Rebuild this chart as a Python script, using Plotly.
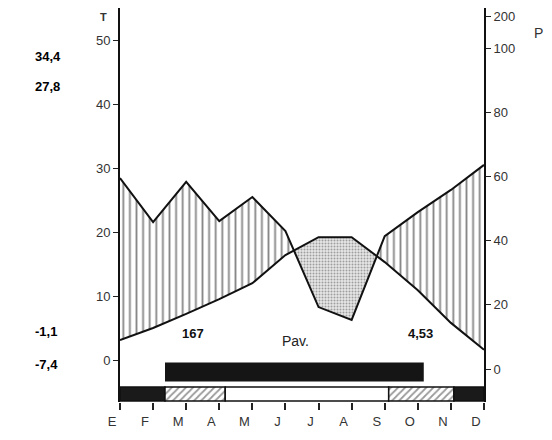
import numpy as np
import plotly.graph_objects as go

# ---------------- data ----------------
months = ["E", "F", "M", "A", "M", "J", "J", "A", "S", "O", "N", "D"]
temperature = [3.1, 5.0, 7.2, 9.5, 12.0, 16.4, 19.2, 19.2, 15.3, 10.9, 5.8, 1.6]   # °C
precipitation = [59.5, 45.8, 58.3, 46.1, 53.6, 43.0, 19.3, 15.3, 41.4, 48.9, 55.8, 63.6]  # mm

temp_ticks = [0, 10, 20, 30, 40, 50]
prec_tickvals = [0, 20, 40, 60, 80, 100, 110]          # above 100 mm scale reduced to 1/10
prec_ticktext = ["0", "20", "40", "60", "80", "100", "200"]

left_values_top = ["34,4", "27,8"]
left_values_bottom = ["-1,1", "-7,4"]
station_altitude = "167"
station_name = "Pav."
right_value = "4,53"

# frost strip (month units): kind of each period
strip_start = [0.0, 1.36, 3.18, 8.12, 10.09]
strip_end = [1.36, 3.18, 8.12, 10.09, 11.0]
strip_kind = ["black", "hatch", "white", "hatch", "black"]
# black period bar (month units)
period_start = [1.36]
period_end = [9.18]

# ---------------- axes ----------------
T_RANGE = [-6.56, 55.0]
P_RANGE = [-10.28, 112.5]

# page is rendered with an 8px body margin
OFF = 8
PL, PR, PT_, PB = 120, 484, 8, 402          # plot area in page pixels
FW, FH = 552 - OFF, 440 - OFF


def px_to_paper_x(px):
    return (px - PL) / (PR - PL)


def py_to_paper_y(py):
    return (PB - py) / (PB - PT_)


x = np.arange(len(months), dtype=float)
t = np.array(temperature)
p = np.array(precipitation)
# precipitation expressed in temperature-axis units (same pixel position)
pt = T_RANGE[0] + (p - P_RANGE[0]) * (T_RANGE[1] - T_RANGE[0]) / (P_RANGE[1] - P_RANGE[0])

# breakpoints incl. crossings for fills
bx = [x[0]]
for i in range(len(x) - 1):
    d0 = pt[i] - t[i]
    d1 = pt[i + 1] - t[i + 1]
    if d0 * d1 < 0:
        f = d0 / (d0 - d1)
        bx.append(x[i] + f)
    bx.append(x[i + 1])
bx = np.array(bx)
bt = np.interp(bx, x, t)
bp = np.interp(bx, x, pt)

fig = go.Figure()

# humid area (vertical hatching)
fig.add_trace(go.Scatter(x=bx, y=bt, mode="lines", line=dict(width=0, color="black"),
                         hoverinfo="skip", showlegend=False))
fig.add_trace(go.Scatter(x=bx, y=np.maximum(bp, bt), mode="lines", line=dict(width=0, color="black"),
                         fill="tonexty", fillcolor="white",
                         fillpattern=dict(shape="|", size=6.6, solidity=0.28, fgcolor="#111111", bgcolor="white"),
                         hoverinfo="skip", showlegend=False))
# dry area (stipple)
fig.add_trace(go.Scatter(x=bx, y=bt, mode="lines", line=dict(width=0, color="black"),
                         hoverinfo="skip", showlegend=False))
fig.add_trace(go.Scatter(x=bx, y=np.minimum(bp, bt), mode="lines", line=dict(width=0, color="black"),
                         fill="tonexty", fillcolor="white",
                         fillpattern=dict(shape=".", size=3, solidity=0.35, fgcolor="#555555", bgcolor="#e6e6e6"),
                         hoverinfo="skip", showlegend=False))

# curves
fig.add_trace(go.Scatter(x=x, y=temperature, mode="lines", line=dict(color="#111", width=2),
                         yaxis="y", showlegend=False))
fig.add_trace(go.Scatter(x=x, y=precipitation, mode="lines", line=dict(color="#111", width=2),
                         yaxis="y2", showlegend=False))

# frost strip & period bar (on a pixel-like helper axis, 0 = plot bottom)
kind_style = {
    "black": dict(color="#1a1a1a"),
    "hatch": dict(color="white", pattern=dict(shape="/", size=5, solidity=0.35, fgcolor="#333", bgcolor="white")),
    "white": dict(color="white"),
}
for s, e, k in zip(strip_start, strip_end, strip_kind):
    m = dict(kind_style[k])
    m["line"] = dict(color="#111", width=1.5)
    fig.add_trace(go.Bar(x=[e - s], base=[s], y=[8], width=[14], orientation="h",
                         marker=m, yaxis="y3", showlegend=False, hoverinfo="skip"))
for s, e in zip(period_start, period_end):
    fig.add_trace(go.Bar(x=[e - s], base=[s], y=[30], width=[19], orientation="h",
                         marker=dict(color="#151515", line=dict(width=0)),
                         yaxis="y3", showlegend=False, hoverinfo="skip"))

tick_font = dict(family="Liberation Sans, Arial, sans-serif", size=13, color="#333")
lbl_font = dict(family="Liberation Sans, Arial, sans-serif", size=13, color="#111")

fig.update_layout(
    width=FW, height=FH,
    margin=dict(l=PL - OFF, r=FW - (PR - OFF), t=PT_ - OFF, b=FH - (PB - OFF)),
    paper_bgcolor="white", plot_bgcolor="white",
    barmode="overlay",
    xaxis=dict(range=[0, 11], tickvals=list(x), ticktext=months, ticks="outside", ticklen=7,
               tickcolor="#222", tickwidth=1.5, showgrid=False, zeroline=False, showline=False,
               tickfont=dict(family="Liberation Sans, Arial, sans-serif", size=13, color="#333"),
               ticklabelshift=-8),
    yaxis=dict(range=T_RANGE, tickvals=temp_ticks, ticks="outside", ticklen=5, tickcolor="#222",
               showgrid=False, zeroline=False, showline=True, linecolor="#111", linewidth=2,
               tickfont=tick_font),
    yaxis2=dict(range=P_RANGE, overlaying="y", side="right", tickvals=prec_tickvals,
                ticktext=prec_ticktext, ticks="outside", ticklen=5, tickcolor="#222",
                showgrid=False, zeroline=False, showline=True, linecolor="#111", linewidth=2,
                tickfont=tick_font),
    yaxis3=dict(range=[0, PB - PT_], overlaying="y", visible=False, fixedrange=True),
)

ann = []
for txt, py in zip(left_values_top + left_values_bottom, [47, 77, 341, 374]):
    ann.append(dict(text="<b>" + txt + "</b>", x=px_to_paper_x(33), y=py_to_paper_y(py),
                    xref="paper", yref="paper", showarrow=False,
                    font=dict(family="Liberation Sans, Arial", size=13, color="#000")))
ann.append(dict(text="<b>T</b>", x=px_to_paper_x(98), y=py_to_paper_y(9), xref="paper", yref="paper",
                showarrow=False, font=dict(family="Liberation Sans, Arial", size=11, color="#333")))
ann.append(dict(text="P", x=px_to_paper_x(545), y=py_to_paper_y(23), xref="paper", yref="paper",
                showarrow=False, font=dict(family="Liberation Sans, Arial", size=14, color="#333")))
ann.append(dict(text="<b>" + station_altitude + "</b>", x=2.21, y=4.2, xref="x", yref="y",
                showarrow=False, font=lbl_font))
ann.append(dict(text="Pav.", x=5.3, y=3.0, xref="x", yref="y", showarrow=False,
                font=dict(family="Liberation Sans, Arial", size=14, color="#222")))
ann.append(dict(text="<b>" + right_value + "</b>", x=9.09, y=4.2, xref="x", yref="y",
                showarrow=False, font=lbl_font))
fig.update_layout(annotations=ann)

fig.write_html("out.html")
